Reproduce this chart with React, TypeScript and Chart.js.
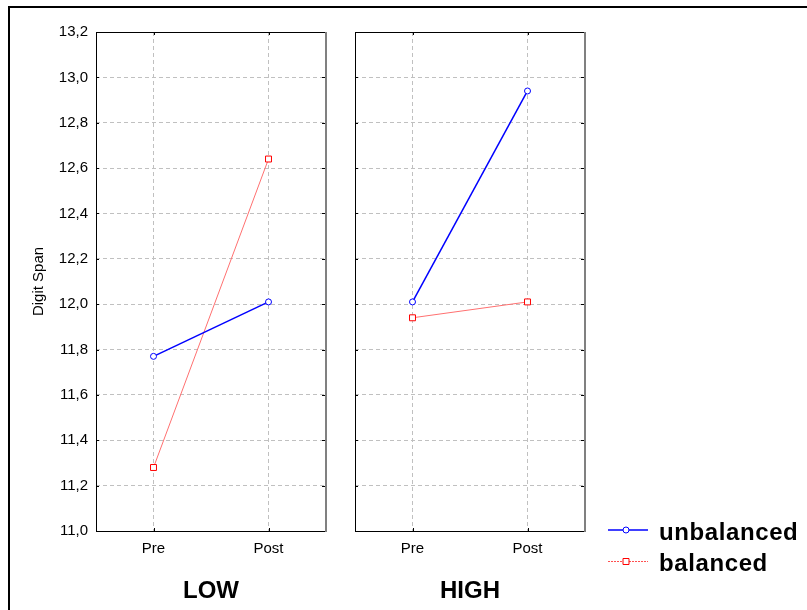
import React, { useEffect, useRef } from "react";
import { Chart, registerables } from "chart.js";

Chart.register(...registerables);

// ---- data ----
const categories = ["Pre", "Post"];
const groups = ["LOW", "HIGH"];
const seriesNames = ["unbalanced", "balanced"];
const unbalancedLow = [11.77, 12.01];
const balancedLow = [11.28, 12.64];
const unbalancedHigh = [12.01, 12.94];
const balancedHigh = [11.94, 12.01];
const yTicks = [11.0, 11.2, 11.4, 11.6, 11.8, 12.0, 12.2, 12.4, 12.6, 12.8, 13.0, 13.2];
const yTitle = "Digit Span";

const FONT = '"Liberation Sans", Arial, sans-serif';

const fmt = (v: number) => v.toFixed(1).replace(".", ",");

const framePlugin = {
  id: "frame",
  beforeDatasetsDraw(chart: any) {
    const { ctx, chartArea: a } = chart;
    const xs = chart.scales.x;
    const ys = chart.scales.y;
    ctx.save();
    ctx.strokeStyle = "#000";
    ctx.lineWidth = 1;
    ctx.setLineDash([]);
    ctx.beginPath();
    ctx.moveTo(a.left + 0.5, a.top);
    ctx.lineTo(a.left + 0.5, a.bottom + 0.5);
    ctx.moveTo(a.left, a.top + 0.5);
    ctx.lineTo(a.right, a.top + 0.5);
    ctx.moveTo(a.left, a.bottom + 0.5);
    ctx.lineTo(a.right, a.bottom + 0.5);
    // inward ticks
    const tl = 3;
    ys.ticks.forEach((_t: any, i: number) => {
      const y = Math.round(ys.getPixelForTick(i)) + 0.5;
      ctx.moveTo(a.left, y);
      ctx.lineTo(a.left + tl, y);
      ctx.moveTo(a.right - 1, y);
      ctx.lineTo(a.right - 1 - tl, y);
    });
    xs.ticks.forEach((_t: any, i: number) => {
      const x = Math.round(xs.getPixelForTick(i)) + 0.5;
      ctx.moveTo(x, a.top);
      ctx.lineTo(x, a.top + tl);
      ctx.moveTo(x, a.bottom);
      ctx.lineTo(x, a.bottom - tl);
    });
    ctx.stroke();
    ctx.strokeStyle = "#808080";
    ctx.lineWidth = 2;
    ctx.beginPath();
    ctx.moveTo(a.right, a.top);
    ctx.lineTo(a.right, a.bottom + 1);
    ctx.stroke();
    ctx.restore();
  },
};

const legendPlugin = {
  id: "sideLegend",
  afterDraw(chart: any) {
    const { ctx, chartArea: a } = chart;
    ctx.save();
    chart.data.datasets.forEach((ds: any, i: number) => {
      const y = a.bottom - 1 + i * 31.5;
      const x0 = a.right + 23;
      const x1 = a.right + 63;
      const xm = a.right + 41;
      ctx.strokeStyle = ds.legendLineColor || ds.borderColor;
      ctx.lineWidth = i === 0 ? 1.5 : 1;
      ctx.setLineDash(i === 0 ? [] : [2, 1]);
      ctx.beginPath();
      ctx.moveTo(x0, y);
      ctx.lineTo(x1, y);
      ctx.stroke();
      ctx.setLineDash([]);
      ctx.fillStyle = "#fff";
      ctx.strokeStyle = ds.pointBorderColor;
      ctx.lineWidth = 1;
      ctx.beginPath();
      if (ds.pointStyle === "rect") {
        ctx.rect(xm - 3, y - 3, 6, 6);
      } else {
        ctx.arc(xm, y, 3, 0, Math.PI * 2);
      }
      ctx.fill();
      ctx.stroke();
      ctx.fillStyle = "#000";
      ctx.font = `bold 24px ${FONT}`;
      ctx.textBaseline = "alphabetic";
      ctx.textAlign = "left";
      try {
        (ctx as any).letterSpacing = "0.6px";
      } catch (e) {}
      ctx.fillText(ds.label, a.right + 74, y + 9.5);
    });
    ctx.restore();
  },
};

function makeDatasets(unb: number[], bal: number[]) {
  return [
    {
      label: seriesNames[0],
      data: unb,
      borderColor: "#0000ff",
      borderWidth: 1.5,
      pointStyle: "circle",
      pointRadius: 3,
      pointBackgroundColor: "#ffffff",
      pointBorderColor: "#0000ff",
      pointBorderWidth: 1,
      tension: 0,
    },
    {
      label: seriesNames[1],
      data: bal,
      borderColor: "#ff7070",
      legendLineColor: "#ff5050",
      borderWidth: 1,
      pointStyle: "rect",
      pointRadius: 4.2,
      pointBackgroundColor: "#ffffff",
      pointBorderColor: "#ff0000",
      pointBorderWidth: 1,
      tension: 0,
    },
  ];
}

function makeConfig(
  unb: number[],
  bal: number[],
  title: string,
  first: boolean,
  leftWidth: number,
  rightPad: number
): any {
  return {
    type: "line",
    data: { labels: categories, datasets: makeDatasets(unb, bal) },
    plugins: first ? [framePlugin] : [framePlugin, legendPlugin],
    options: {
      animation: false,
      responsive: false,
      maintainAspectRatio: false,
      layout: { padding: { top: 32, right: rightPad, left: 0, bottom: 0 } },
      plugins: { legend: { display: false }, tooltip: { enabled: false } },
      scales: {
        x: {
          type: "category",
          offset: true,
          grid: { color: "#c0c0c0", lineWidth: 1, drawTicks: false, offset: false },
          border: { display: false, dash: [4, 3] },
          ticks: {
            color: "#000",
            font: { family: FONT, size: 15 },
            padding: 9,
            maxRotation: 0,
          },
          title: {
            display: true,
            text: title,
            color: "#000",
            font: { family: FONT, size: 24, weight: "bold", lineHeight: 1.2 },
            padding: { top: 0, bottom: 4 },
          },
          afterFit: (s: any) => {
            s.height = 79;
          },
        },
        y: {
          type: "linear",
          min: 11,
          max: 13.2,
          grid: { color: "#c0c0c0", lineWidth: 1, drawTicks: false },
          border: { display: false, dash: [4, 3] },
          afterBuildTicks: (s: any) => {
            s.ticks = yTicks.map((v) => ({ value: v }));
          },
          ticks: {
            display: first,
            color: "#000",
            font: { family: FONT, size: 15 },
            padding: 8,
            callback: (v: any) => fmt(Number(v)),
          },
          title: {
            display: first,
            text: yTitle,
            color: "#000",
            font: { family: FONT, size: 15, lineHeight: 1.2 },
            padding: { top: 30, bottom: 0 },
          },
          afterFit: (s: any) => {
            s.width = leftWidth;
          },
        },
      },
    },
  };
}

export default function App() {
  const ref1 = useRef<HTMLCanvasElement>(null);
  const ref2 = useRef<HTMLCanvasElement>(null);

  useEffect(() => {
    const c1 = new Chart(
      ref1.current as HTMLCanvasElement,
      makeConfig(unbalancedLow, balancedLow, groups[0], true, 96, 14)
    );
    const c2 = new Chart(
      ref2.current as HTMLCanvasElement,
      makeConfig(unbalancedHigh, balancedHigh, groups[1], false, 15, 222)
    );
    return () => {
      c1.destroy();
      c2.destroy();
    };
  }, []);

  return (
    <div
      style={{
        position: "fixed",
        left: 0,
        top: 0,
        width: 807,
        height: 610,
        overflow: "hidden",
        background: "#fff",
      }}
    >
      <div
        style={{
          position: "absolute",
          left: 8,
          top: 6,
          width: 830,
          height: 640,
          borderLeft: "2px solid #000",
          borderTop: "2px solid #000",
          boxSizing: "border-box",
        }}
      />
      <canvas
        ref={ref1}
        width={340}
        height={610}
        style={{ position: "absolute", left: 0, top: 0, width: 340, height: 610 }}
      />
      <canvas
        ref={ref2}
        width={467}
        height={610}
        style={{ position: "absolute", left: 340, top: 0, width: 467, height: 610 }}
      />
    </div>
  );
}
